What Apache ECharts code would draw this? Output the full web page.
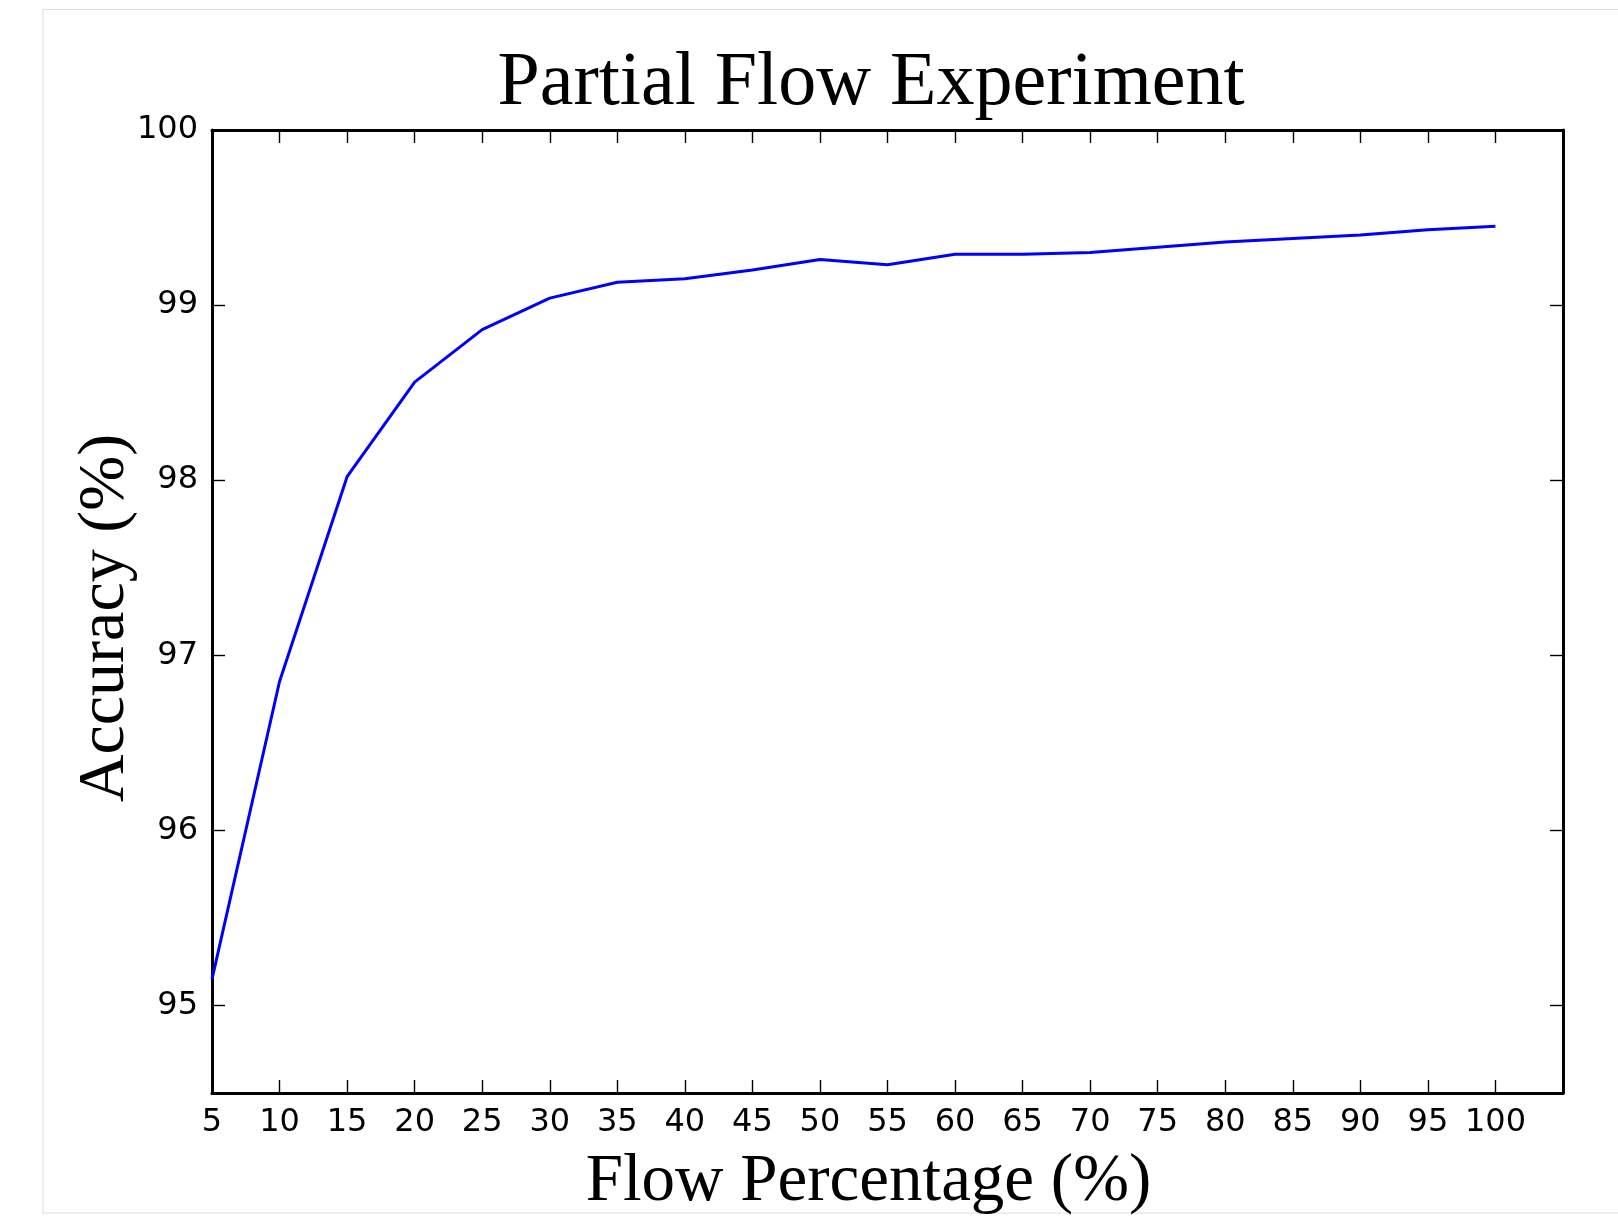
<!DOCTYPE html>
<html>
<head>
<meta charset="utf-8">
<title>Partial Flow Experiment</title>
<script src="https://cdn.jsdelivr.net/npm/echarts@6/dist/echarts.min.js"></script>
<style>
  html, body { margin: 0; padding: 0; background: #fff; }
  #main { width: 1618px; height: 1216px; }
</style>
</head>
<body>
<div id="main"></div>
<script>
// flow percentage used (x) and accuracy reached (y)
var flowPct = [5, 10, 15, 20, 25, 30, 35, 40, 45, 50, 55, 60, 65, 70, 75, 80, 85, 90, 95, 100];
var accuracy = [95.15, 96.85, 98.02, 98.56, 98.86, 99.04, 99.13, 99.15, 99.2, 99.26,
                99.23, 99.29, 99.29, 99.3, 99.33, 99.36, 99.38, 99.4, 99.43, 99.45];
var xRange = [5, 105];
var yRange = [94.5, 100];

var myChart = echarts.init(document.getElementById('main'));

var serif = 'Liberation Serif, Times New Roman, serif';
var sans = 'DejaVu Sans, sans-serif';

var frameLine = { show: true, onZero: false, lineStyle: { color: '#000', width: 3 } };
var innerTick = { show: true, inside: true, length: 13, lineStyle: { color: '#000', width: 1.4 } };

var points = flowPct.map(function (x, i) { return [x, accuracy[i]]; });

var option = {
    backgroundColor: '#fff',
    animation: false,
    title: {
        text: 'Partial Flow Experiment',
        left: 866,
        top: 41,
        textAlign: 'center',
        textStyle: { fontFamily: serif, fontSize: 76, fontWeight: 'normal', color: '#000' }
    },
    grid: { left: 212, top: 130, right: 55, bottom: 123, outerBoundsMode: 'none' },
    xAxis: [{
        type: 'value',
        position: 'bottom',
        min: xRange[0],
        max: xRange[1],
        interval: 5,
        name: 'Flow Percentage (%)',
        nameLocation: 'middle',
        nameGap: 56,
        nameMoveOverlap: false,
        nameTextStyle: { fontFamily: serif, fontSize: 67, color: '#000', padding: [0, 38, 0, 0] },
        axisLine: frameLine,
        axisTick: innerTick,
        splitLine: { show: false },
        axisLabel: {
            margin: 14,
            color: '#000',
            fontFamily: sans,
            fontSize: 32,
            formatter: function (v) { return v > 100 ? '' : v; }
        }
    }, {
        type: 'value',
        position: 'top',
        min: xRange[0],
        max: xRange[1],
        interval: 5,
        axisLine: frameLine,
        axisTick: innerTick,
        axisLabel: { show: false },
        splitLine: { show: false }
    }],
    yAxis: [{
        type: 'value',
        position: 'left',
        min: yRange[0],
        max: yRange[1],
        minInterval: 1,
        maxInterval: 1,
        name: 'Accuracy (%)',
        nameLocation: 'middle',
        nameGap: 73,
        nameMoveOverlap: false,
        nameTextStyle: { fontFamily: serif, fontSize: 66, color: '#000', padding: [0, 13, 0, 0] },
        axisLine: frameLine,
        axisTick: innerTick,
        splitLine: { show: false },
        axisLabel: {
            margin: 14,
            color: '#000',
            fontFamily: sans,
            fontSize: 32,
            formatter: function (v) { return v % 1 === 0 ? v : ''; }
        }
    }, {
        type: 'value',
        position: 'right',
        min: yRange[0],
        max: yRange[1],
        minInterval: 1,
        maxInterval: 1,
        axisLine: frameLine,
        axisTick: innerTick,
        axisLabel: { show: false },
        splitLine: { show: false }
    }],
    // faint outline of the original figure canvas
    graphic: [{
        type: 'rect',
        silent: true,
        shape: { x: 43, y: 9.5, width: 1600, height: 1203.5 },
        style: { fill: null, stroke: '#dcdcdc', lineWidth: 1 }
    }],
    series: [{
        type: 'line',
        xAxisIndex: 0,
        yAxisIndex: 0,
        data: points,
        showSymbol: false,
        lineStyle: { color: '#0000ff', width: 3 },
        itemStyle: { color: '#0000ff' }
    }]
};

myChart.setOption(option);
</script>
</body>
</html>
